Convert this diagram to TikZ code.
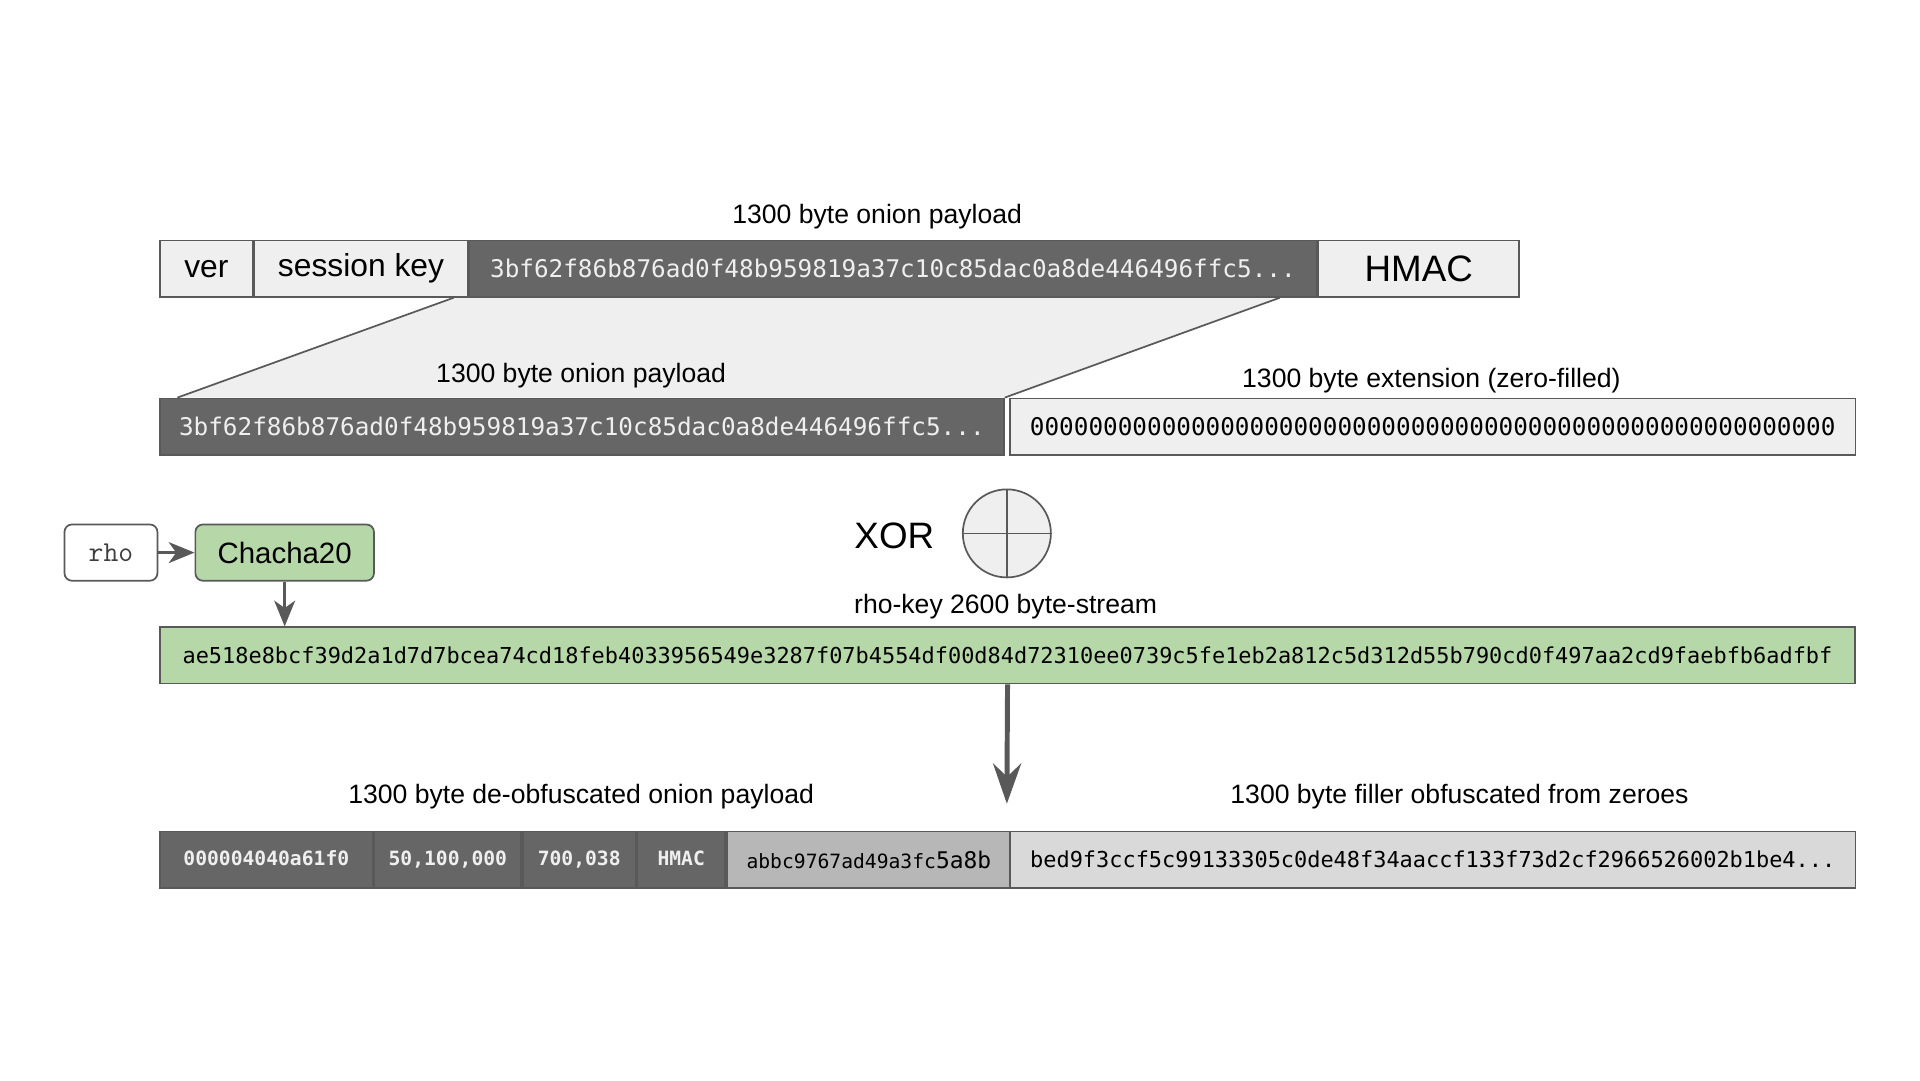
\documentclass[tikz,border=0pt]{standalone}
\usepackage{fontspec}
\setmainfont{Liberation Sans}
\newfontfamily\hexfont{DejaVu Sans Mono}
\usetikzlibrary{positioning,arrows.meta,calc,backgrounds}
\definecolor{darkbox}{HTML}{666666}
\definecolor{lightbox}{HTML}{EFEFEF}
\definecolor{greenbox}{HTML}{B6D7A8}
\definecolor{midbox}{HTML}{B7B7B7}
\definecolor{fillbox}{HTML}{D9D9D9}
\definecolor{edge}{HTML}{595959}
\begin{document}
\begin{tikzpicture}[x=0.02cm,y=-0.02cm,
	box/.style={draw=edge,line width=0.8pt,minimum height=0.92cm,inner sep=0pt,anchor=north west},
	lbl/.style={font=\fontsize{12.37}{14}\selectfont},
	bigtext/.style={font=\fontsize{17.1}{19}\selectfont},
	hexbig/.style={font=\hexfont\fontsize{11.32}{13}\selectfont},
	hexsmall/.style={font=\hexfont\fontsize{10.2}{12}\selectfont},
	segtext/.style={font=\hexfont\bfseries\fontsize{9.15}{11}\selectfont,text=lightbox,text height=7pt,text depth=2pt},
	arr/.style={draw=edge,line width=1.5pt,-{Stealth[length=0.42cm,width=0.34cm,inset=0.12cm]}},
	bigarr/.style={draw=edge,line width=2.3pt,-{Stealth[length=0.66cm,width=0.46cm,inset=0.22cm]}}]
	\useasboundingbox (0,0) rectangle (1569.4,882.8);
	% onion packet
	\node[lbl] (toplbl) at (717,177) {1300 byte onion payload};
	\node[box,fill=lightbox,minimum width=1.52cm,font=\fontsize{14.79}{16}\selectfont] (ver) at (130,196) {ver};
	\node[box,fill=lightbox,minimum width=3.48cm,font=\fontsize{14.79}{16}\selectfont,right=0pt of ver] (skey) {session key};
	\node[box,fill=darkbox,minimum width=13.86cm,hexbig,text=lightbox,right=0pt of skey] (pay) {3bf62f86b876ad0f48b959819a37c10c85dac0a8de446496ffc5...};
	\node[box,fill=lightbox,minimum width=3.28cm,bigtext,right=0pt of pay] (hmac) {HMAC};
	% payload + extension
	\node[box,fill=darkbox,minimum width=13.8cm,hexbig,text=lightbox] (mid) at (130,325) {3bf62f86b876ad0f48b959819a37c10c85dac0a8de446496ffc5...};
	\node[box,fill=lightbox,minimum width=13.82cm,hexbig] (ext) at (825,325) {0000000000000000000000000000000000000000000000000000000};
	\begin{pgfonlayer}{background}
		\fill[lightbox] ($(pay.south west)+(-12,0)$) -- ($(pay.south east)+(-31,0)$) -- (mid.north east) -- ($(mid.north west)+(15,0)$) -- cycle;
	\end{pgfonlayer}
	\draw[edge,line width=0.8pt] ($(pay.south west)+(-12,0)$) -- ($(mid.north west)+(15,0)$);
	\draw[edge,line width=0.8pt] ($(pay.south east)+(-31,0)$) -- (mid.north east);
	\node[lbl] (midlbl) at (475,307) {1300 byte onion payload};
	\node[lbl] (extlbl) at (1170,311) {1300 byte extension (zero-filled)};
	% key stream
	\node[box,rounded corners=3.5pt,fill=white,minimum width=1.52cm,font=\ttfamily\fontsize{13.4}{15}\selectfont,text=edge!70!black] (rho) at (52,428) {rho};
	\node[box,rounded corners=3.5pt,fill=greenbox,minimum width=2.92cm,font=\fontsize{13.68}{15}\selectfont] (cha) at (159,428) {Chacha20};
	\node[bigtext] (xor) at (731,438) {XOR};
	\node[circle,draw=edge,line width=0.8pt,fill=lightbox,minimum size=1.44cm] (xc) at (823,436) {};
	\draw[edge,line width=0.8pt] (xc.north) -- (xc.south) (xc.west) -- (xc.east);
	\node[lbl] (keylbl) at (822,496) {rho-key 2600 byte-stream};
	\node[box,fill=greenbox,minimum width=27.72cm,hexsmall] (key) at (130,512) {ae518e8bcf39d2a1d7d7bcea74cd18feb4033956549e3287f07b4554df00d84d72310ee0739c5fe1eb2a812c5d312d55b790cd0f497aa2cd9faebfb6adfbf};
	\draw[arr] (rho) -- (cha);
	\draw[arr] (cha.south) -- (cha.south |- key.north);
	\coordinate (xend) at (823,657);
	\draw[bigarr] (key.south) -- (xend);
	% result
	\node[lbl] (outlbl) at (475,651) {1300 byte de-obfuscated onion payload};
	\node[lbl] (fillbl) at (1193,651) {1300 byte filler obfuscated from zeroes};
	\node[box,fill=darkbox,minimum width=3.48cm,segtext] (seg1) at (130,679) {000004040a61f0};
	\node[box,fill=darkbox,minimum width=2.4cm,segtext,right=0pt of seg1] (seg2) {50,100,000};
	\node[box,fill=darkbox,minimum width=1.84cm,segtext,right=0pt of seg2] (seg3) {700,038};
	\node[box,fill=darkbox,minimum width=1.44cm,segtext,right=0pt of seg3] (seg4) {HMAC};
	\node[box,fill=midbox,minimum width=4.64cm,font=\hexfont\fontsize{9.15}{11}\selectfont,text=black,right=0pt of seg4] (seg5) {abbc9767ad49a3fc{\fontsize{10.66}{12}\selectfont 5a8b}};
	\node[box,fill=fillbox,minimum width=13.82cm,hexsmall] (filler) at (825,679) {bed9f3ccf5c99133305c0de48f34aaccf133f73d2cf2966526002b1be4...};
\end{tikzpicture}
\end{document}
